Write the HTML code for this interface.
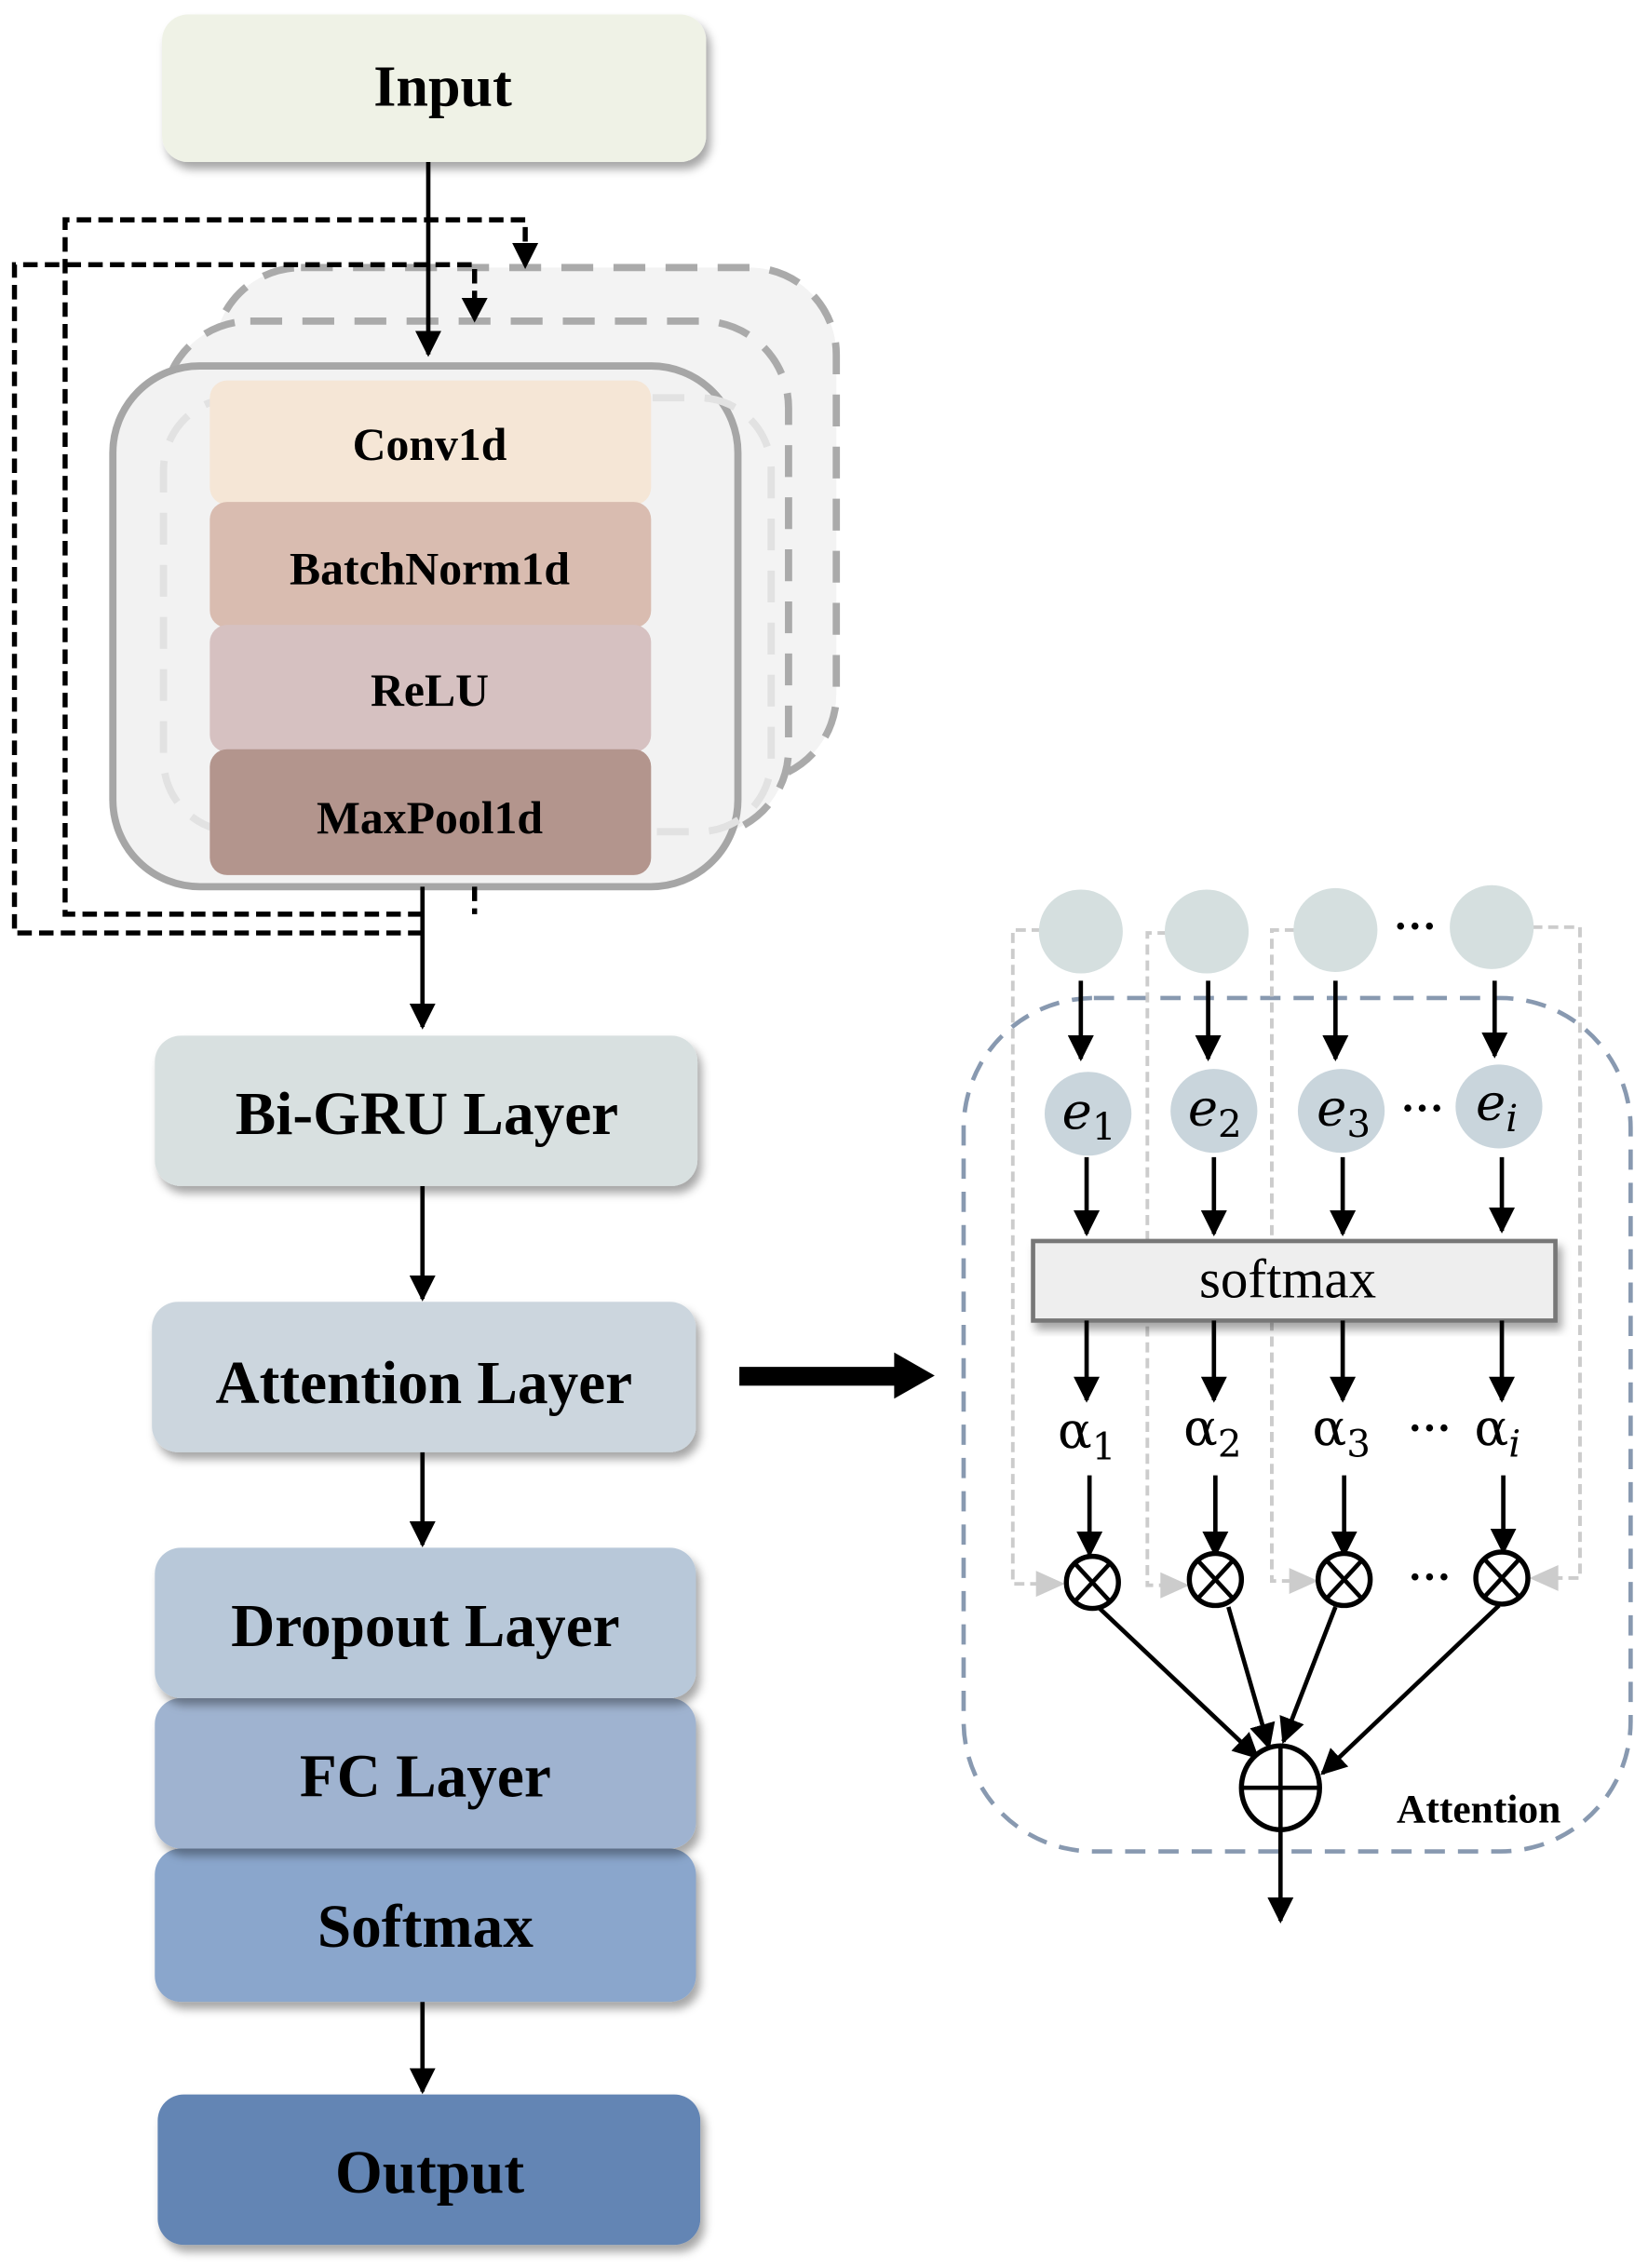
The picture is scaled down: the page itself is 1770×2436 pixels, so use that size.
<!DOCTYPE html>
<html><head><meta charset="utf-8"><style>
html,body{margin:0;padding:0;background:#fff;}
svg{display:block;}
.t{font-family:"Liberation Serif",serif;font-weight:bold;text-anchor:middle;}
</style></head><body>
<svg width="1770" height="2436" viewBox="0 0 1139 1568" preserveAspectRatio="none" xmlns="http://www.w3.org/2000/svg">
<defs>
<marker id="ab" viewBox="0 0 10 10" refX="9" refY="5" markerWidth="18" markerHeight="18" orient="auto" markerUnits="userSpaceOnUse"><path d="M0,0L10,5L0,10z" fill="#000"/></marker>
<filter id="sh" x="-10%" y="-10%" width="125%" height="130%"><feDropShadow dx="3" dy="5" stdDeviation="3" flood-color="#000" flood-opacity="0.35"/></filter>
</defs>

<rect x="112" y="10" width="376" height="102" rx="18" fill="#eff2e6" filter="url(#sh)"/>
<text class="t" x="306" y="73" font-size="40">Input</text>

<rect x="148" y="185" width="430" height="355" rx="60" fill="#f3f3f3" stroke="#aaa" stroke-width="5" stroke-dasharray="22,14"/>
<rect x="113" y="222" width="432" height="356" rx="60" fill="#f3f3f3" stroke="#aaa" stroke-width="5" stroke-dasharray="22,14"/>
<rect x="78" y="253" width="432" height="360" rx="60" fill="#f2f2f2" stroke="#a6a6a6" stroke-width="5"/>
<rect x="113" y="275" width="420" height="300" rx="50" fill="none" stroke="#e2e2e2" stroke-width="5" stroke-dasharray="22,14"/>

<rect x="145" y="263" width="305" height="86" rx="12" fill="#f5e6d6"/>
<rect x="145" y="347" width="305" height="87" rx="12" fill="#d9bcb0"/>
<rect x="145" y="432" width="305" height="88" rx="12" fill="#d6c1c1"/>
<rect x="145" y="518" width="305" height="87" rx="12" fill="#b3958d"/>
<text class="t" x="297" y="318" font-size="32">Conv1d</text>
<text class="t" x="297" y="404" font-size="32">BatchNorm1d</text>
<text class="t" x="297" y="488" font-size="32">ReLU</text>
<text class="t" x="297" y="576" font-size="32">MaxPool1d</text>

<g fill="none" stroke="#000" stroke-width="3.5" stroke-dasharray="10,5">
<path d="M292,645 H10 V183 H328 V210"/>
<path d="M292,632 H45 V152 H363 V172"/>
<path d="M328,613 V632"/>
</g>
<path d="M319,206 L337,206 L328,223z" fill="#000"/>
<path d="M354,168 L372,168 L363,186z" fill="#000"/>

<g stroke="#000" stroke-width="3" fill="none" marker-end="url(#ab)">
<line x1="296" y1="112" x2="296" y2="245"/>
<line x1="292" y1="613" x2="292" y2="710"/>
<line x1="292" y1="820" x2="292" y2="898"/>
<line x1="292" y1="1004" x2="292" y2="1068"/>
<line x1="292" y1="1384" x2="292" y2="1446"/>
</g>

<rect x="107" y="716" width="375" height="104" rx="18" fill="#d8e0e0" filter="url(#sh)"/>
<text class="t" x="295" y="784" font-size="42">Bi-GRU Layer</text>
<rect x="105" y="900" width="376" height="104" rx="18" fill="#ccd6de" filter="url(#sh)"/>
<text class="t" x="293" y="970" font-size="42">Attention Layer</text>
<rect x="107" y="1278" width="374" height="106" rx="18" fill="#8aa6cc" filter="url(#sh)"/>
<text class="t" x="294" y="1346" font-size="42">Softmax</text>
<rect x="107" y="1174" width="374" height="104" rx="18" fill="#9fb3d0" filter="url(#sh)"/>
<text class="t" x="294" y="1242" font-size="42">FC Layer</text>
<rect x="107" y="1070" width="374" height="104" rx="18" fill="#b8c8d9" filter="url(#sh)"/>
<text class="t" x="294" y="1138" font-size="42">Dropout Layer</text>
<rect x="109" y="1448" width="375" height="104" rx="18" fill="#6485b4" filter="url(#sh)"/>
<text class="t" x="297" y="1516" font-size="42">Output</text>

<rect x="511" y="945" width="112" height="13" fill="#000"/>
<path d="M618,935 L646,951 L618,967z" fill="#000"/>

<rect x="666" y="690" width="461" height="590" rx="90" fill="none" stroke="#8899b0" stroke-width="3" stroke-dasharray="14,9"/>

<g fill="none" stroke="#ccc" stroke-width="2.5" stroke-dasharray="7,4">
<path d="M720,643 H700 V1095 H720"/>
<path d="M807,645 H793 V1096 H806"/>
<path d="M895,643 H879 V1093 H895"/>
<path d="M1059,641 H1092 V1091 H1072"/>
</g>
<g fill="#ccc">
<path d="M716,1086 L736,1095 L716,1104z"/>
<path d="M802,1087 L822,1096 L802,1105z"/>
<path d="M891,1084 L911,1093 L891,1102z"/>
<path d="M1077,1082 L1057,1091 L1077,1100z"/>
</g>

<g fill="#d5dfdf">
<ellipse cx="747" cy="644" rx="29" ry="29"/>
<ellipse cx="834" cy="644" rx="29" ry="29"/>
<ellipse cx="923" cy="643" rx="29" ry="29"/>
<ellipse cx="1031" cy="641" rx="29" ry="29"/>
</g>
<text x="978" y="650" font-family="Liberation Serif,serif" font-size="30" font-weight="bold" text-anchor="middle">···</text>

<g fill="#c9d5dc">
<ellipse cx="752" cy="770" rx="30" ry="29"/>
<ellipse cx="839" cy="768" rx="30" ry="29"/>
<ellipse cx="927" cy="768" rx="30" ry="29"/>
<ellipse cx="1036" cy="765" rx="30" ry="29"/>
</g>
<g font-family="DejaVu Serif,serif" font-style="italic" font-size="35">
<text x="734" y="780">e<tspan font-size="26" dy="8" font-style="normal">1</tspan></text>
<text x="821" y="778">e<tspan font-size="26" dy="8" font-style="normal">2</tspan></text>
<text x="910" y="778">e<tspan font-size="26" dy="8" font-style="normal">3</tspan></text>
<text x="1020" y="774">e<tspan font-size="26" dy="8">i</tspan></text>
</g>
<text x="983" y="776" font-family="Liberation Serif,serif" font-size="30" font-weight="bold" text-anchor="middle">···</text>

<rect x="714" y="858" width="361" height="55" fill="#eeeeee" stroke="#777" stroke-width="3" filter="url(#sh)"/>
<text x="890" y="897" font-family="Liberation Serif,serif" font-size="38" text-anchor="middle">softmax</text>

<g font-family="DejaVu Serif,serif" font-size="35">
<text x="731" y="1001">α<tspan font-size="26" dy="8">1</tspan></text>
<text x="818" y="999">α<tspan font-size="26" dy="8">2</tspan></text>
<text x="907" y="999">α<tspan font-size="26" dy="8">3</tspan></text>
<text x="1019" y="999">α<tspan font-size="26" dy="8" font-style="italic">i</tspan></text>
</g>
<text x="988" y="997" font-family="Liberation Serif,serif" font-size="30" font-weight="bold" text-anchor="middle">···</text>
<text x="988" y="1100" font-family="Liberation Serif,serif" font-size="30" font-weight="bold" text-anchor="middle">···</text>

<g stroke="#000" stroke-width="3" marker-end="url(#ab)">
<line x1="747" y1="678" x2="747" y2="732"/>
<line x1="835" y1="678" x2="835" y2="732"/>
<line x1="923" y1="678" x2="923" y2="732"/>
<line x1="1033" y1="678" x2="1033" y2="730"/>
<line x1="751" y1="800" x2="751" y2="853"/>
<line x1="839" y1="800" x2="839" y2="853"/>
<line x1="928" y1="800" x2="928" y2="853"/>
<line x1="1038" y1="800" x2="1038" y2="851"/>
<line x1="751" y1="913" x2="751" y2="968"/>
<line x1="839" y1="913" x2="839" y2="968"/>
<line x1="928" y1="913" x2="928" y2="968"/>
<line x1="1038" y1="913" x2="1038" y2="968"/>
<line x1="753" y1="1020" x2="753" y2="1075"/>
<line x1="840" y1="1020" x2="840" y2="1075"/>
<line x1="929" y1="1020" x2="929" y2="1075"/>
<line x1="1039" y1="1020" x2="1039" y2="1073"/>
<line x1="760" y1="1112" x2="869" y2="1215"/>
<line x1="849" y1="1111" x2="877" y2="1208"/>
<line x1="923" y1="1111" x2="887" y2="1204"/>
<line x1="1036" y1="1110" x2="914" y2="1226"/>
<line x1="885" y1="1263" x2="885" y2="1328"/>
</g>

<g fill="#fff" stroke="#000" stroke-width="3.5">
<ellipse cx="755" cy="1094" rx="18" ry="18"/>
<ellipse cx="840" cy="1092" rx="18" ry="18"/>
<ellipse cx="929" cy="1092" rx="18" ry="18"/>
<ellipse cx="1038" cy="1091" rx="18" ry="18"/>
</g>
<g stroke="#000" stroke-width="3">
<path d="M743,1081 L767,1107 M767,1081 L743,1107"/>
<path d="M828,1079 L852,1105 M852,1079 L828,1105"/>
<path d="M917,1079 L941,1105 M941,1079 L917,1105"/>
<path d="M1026,1078 L1050,1104 M1050,1078 L1026,1104"/>
</g>

<ellipse cx="885" cy="1236" rx="27" ry="29" fill="#fff" stroke="#000" stroke-width="3.5"/>
<path d="M885,1207 V1265 M858,1236 H912" stroke="#000" stroke-width="3"/>

<text x="1022" y="1260" font-family="Liberation Serif,serif" font-weight="bold" font-size="28" text-anchor="middle">Attention</text>
</svg>
</body></html>
